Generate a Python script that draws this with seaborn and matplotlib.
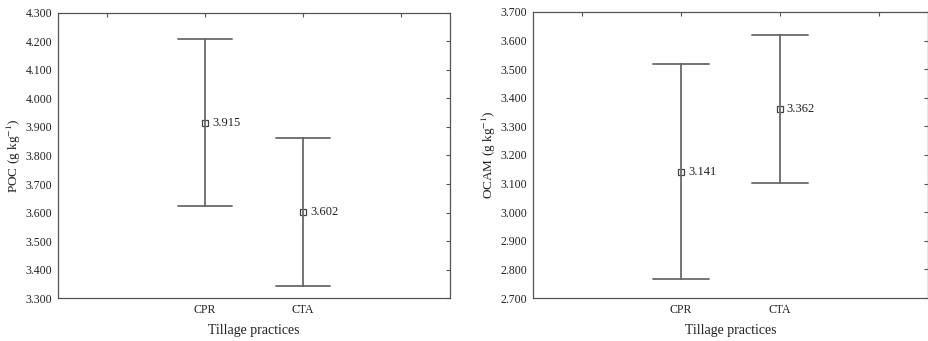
import matplotlib
matplotlib.use("Agg")
import matplotlib.pyplot as plt
import seaborn as sns
import pandas as pd
import numpy as np
from matplotlib.ticker import FormatStrFormatter, MultipleLocator

categories = ["CPR", "CTA"]
poc_mean = [3.915, 3.602]
poc_low = [3.624, 3.341]
poc_high = [4.207, 3.862]
ocam_mean = [3.141, 3.362]
ocam_low = [2.765, 3.102]
ocam_high = [3.518, 3.620]
order = [" ", "CPR", "CTA", "  "]
tick_labels = ["", "CPR", "CTA", ""]

sns.set_theme(style="white")
plt.rcParams["font.family"] = ["Liberation Serif", "DejaVu Serif"]
plt.rcParams["mathtext.fontset"] = "stix"

def make_df(lo, mid, hi):
    rows = []
    for c, a, b, d in zip(categories, lo, mid, hi):
        for v in (a, b, d):
            rows.append({"cat": c, "val": v})
    return pd.DataFrame(rows)

fig = plt.figure(figsize=(9.29, 3.41), dpi=100)
ax1 = fig.add_axes([0.0624, 0.126, 0.422, 0.836])
ax2 = fig.add_axes([0.5737, 0.126, 0.4253, 0.839])

lc = "#6a6a6a"
specs = [
    (ax1, poc_low, poc_mean, poc_high, "POC (g kg$^{-1}$)", (3.3, 4.3)),
    (ax2, ocam_low, ocam_mean, ocam_high, "OCAM (g kg$^{-1}$)", (2.7, 3.7)),
]
for ax, lo, mid, hi, ylab, ylim in specs:
    df = make_df(lo, mid, hi)
    sns.pointplot(data=df, x="cat", y="val", order=order, ax=ax,
                  estimator="median", errorbar=("pi", 100), capsize=0.56,
                  color=lc, marker="s", markersize=4, markerfacecolor="white",
                  markeredgecolor="#444444", markeredgewidth=0.9,
                  linestyle="none", err_kws={"linewidth": 1.3})
    for c, m in zip(categories, mid):
        xi = order.index(c)
        ax.annotate(f"{m:.3f}", (xi, m), xytext=(5, 0), textcoords="offset points",
                    va="center", ha="left", fontsize=9, color="#222222")
    ax.set_xlim(-0.5, 3.5)
    ax.set_ylim(*ylim)
    ax.set_xticks(range(len(order)))
    ax.set_xticklabels(tick_labels)
    ax.yaxis.set_major_locator(MultipleLocator(0.1))
    ax.yaxis.set_major_formatter(FormatStrFormatter("%.3f"))
    ax.set_xlabel("Tillage practices", fontsize=10, color="#222222", labelpad=6)
    ax.set_ylabel(ylab, fontsize=9.5, color="#222222", labelpad=2)
    ax.tick_params(direction="in", length=3, width=0.8, top=True, right=True,
                   labelsize=8.5, colors="#555555", labelcolor="#222222", pad=4)
    for s in ax.spines.values():
        s.set_color("#555555")
        s.set_linewidth(0.9)

fig.savefig("out.png", dpi=100)
